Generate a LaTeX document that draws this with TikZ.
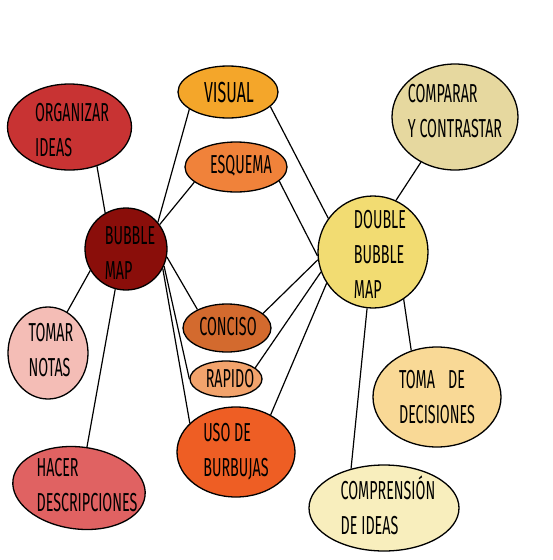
\documentclass[tikz,border=0pt]{standalone}
\usepackage{fontspec}
\setmainfont[FakeStretch=0.55]{Fira Sans}
\usetikzlibrary{shapes.geometric}
\definecolor{cOrg}{HTML}{C83333}
\definecolor{cBm}{HTML}{8A0E0A}
\definecolor{cVis}{HTML}{F4A62A}
\definecolor{cEsq}{HTML}{F0823A}
\definecolor{cCon}{HTML}{D36A2E}
\definecolor{cRap}{HTML}{F2A36C}
\definecolor{cUso}{HTML}{EE5E24}
\definecolor{cTom}{HTML}{F4BDB6}
\definecolor{cHac}{HTML}{E06262}
\definecolor{cCmp}{HTML}{E6D89F}
\definecolor{cDbm}{HTML}{F2DC72}
\definecolor{cTdm}{HTML}{F9D996}
\definecolor{cCdi}{HTML}{F8EEBD}
\tikzset{
  bub/.style={ellipse, draw=black, line width=1.3pt, inner sep=0pt},
  txt/.style={inner sep=0pt, align=left, text=black, font=\fontsize{26}{35}\selectfont},
  link/.style={draw=black, line width=1.2pt}
}
\begin{document}
\begin{tikzpicture}[x=1pt,y=-1pt]
\useasboundingbox (0,0) rectangle (553,560);
% bubbles
\node[bub, fill=cOrg, minimum width=124pt, minimum height=86pt] (org) at (69.5,127) {};
\node[bub, fill=cVis, minimum width=100pt, minimum height=52pt] (vis) at (228,92) {};
\node[bub, fill=cEsq, minimum width=102pt, minimum height=50pt] (esq) at (236,167) {};
\node[bub, fill=cBm, minimum width=82pt, minimum height=82pt] (bm) at (126,249) {};
\node[bub, fill=cCmp, minimum width=126pt, minimum height=106pt] (cmp) at (455,117) {};
\node[bub, fill=cDbm, minimum width=110pt, minimum height=112pt] (dbm) at (373,252) {};
\node[bub, fill=cTom, minimum width=80pt, minimum height=92pt] (tom) at (48,353) {};
\node[bub, fill=cHac, minimum width=133pt, minimum height=82pt, rotate=-7] (hac) at (79,488) {};
\node[bub, fill=cCon, minimum width=88pt, minimum height=48pt] (con) at (227,328) {};
\node[bub, fill=cRap, minimum width=72pt, minimum height=36pt] (rap) at (226,379) {};
\node[bub, fill=cUso, minimum width=118pt, minimum height=90pt] (uso) at (236,452) {};
\node[bub, fill=cTdm, minimum width=128pt, minimum height=100pt] (tdm) at (437,397) {};
\node[bub, fill=cCdi, minimum width=150pt, minimum height=86pt] (cdi) at (384,508) {};
% texts
\node[txt] (orgT) at (72,130) {ORGANIZAR\\IDEAS};
\node[txt, font=\fontsize{29}{35}\selectfont] (visT) at (229,93) {VISUAL};
\node[txt] (esqT) at (241,166) {ESQUEMA};
\node[txt] (bmT) at (130,253) {BUBBLE\\MAP};
\node[txt] (cmpT) at (455,111) {COMPARAR\\Y CONTRASTAR};
\node[txt] (dbmT) at (380,254) {DOUBLE\\BUBBLE\\MAP};
\node[txt] (tomT) at (51,350) {TOMAR\\NOTAS};
\node[txt] (hacT) at (87,485) {HACER\\DESCRIPCIONES};
\node[txt] (conT) at (228,327) {CONCISO};
\node[txt] (rapT) at (230,379) {RAPIDO};
\node[txt] (usoT) at (236,452) {USO DE\\BURBUJAS};
\node[txt] (tdmT) at (437,397) {TOMA\enspace DE\\DECISIONES};
\node[txt] (cdiT) at (388,505) {COMPRENSIÓN\\DE IDEAS};
% connectors
\draw[link] (org.-55) -- (bm.120);
\draw[link] (bm.40) -- (vis.204);
\draw[link] (bm.36) -- (esq.200);
\draw[link] (bm.211) -- (tom.65);
\draw[link] (bm.255) -- (hac.86);
\draw[link] (bm.-11) -- (con.148);
\draw[link] (bm.-24) -- (rap.180);
\draw[link] (bm.-28) -- (uso.148);
\draw[link] (vis.-19) -- (dbm.143);
\draw[link] (esq.-18) -- (dbm.184);
\draw[link] (con.22) -- (dbm.188);
\draw[link] (rap.21) -- (dbm.201);
\draw[link] (uso.47) -- (dbm.214);
\draw[link] (dbm.66) -- (cmp.233);
\draw[link] (dbm.-57) -- (tdm.119);
\draw[link] (dbm.264) -- (cdi.130);
\end{tikzpicture}
\end{document}
